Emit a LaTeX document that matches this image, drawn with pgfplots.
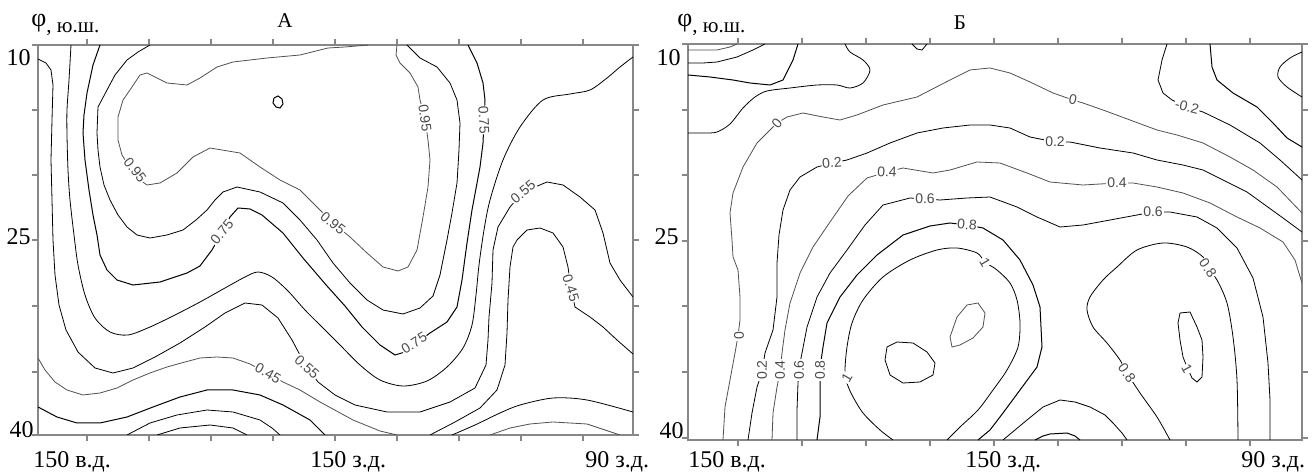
\documentclass[border=0pt]{standalone}
\usepackage{fontspec}
\setmainfont{Liberation Serif}
\newfontfamily\lab{Liberation Sans}
\usepackage{pgfplots}
\pgfplotsset{compat=1.18}
\definecolor{cl}{RGB}{80,80,80}
\definecolor{ax}{RGB}{135,135,135}
\definecolor{lb}{RGB}{75,75,75}
\pgfplotsset{
  panel/.style={scale only axis, y dir=reverse,
    axis line style={ax, line width=1pt},
    tick style={ax, line width=0.8pt}, tick align=outside, major tick length=3pt,
    xticklabels={}, yticklabels={},
    cycle list={{cl, solid, line width=0.5pt, smooth, mark=none}}},
}
\tikzset{clab/.style={font=\lab\fontsize{7}{7}\selectfont, text=lb, fill=white, inner sep=0.4pt}}
\begin{document}
\begin{tikzpicture}
\useasboundingbox (0,0) rectangle (656pt,-237pt);
% ---------------- Panel A ----------------
\begin{axis}[panel, at={(19pt,-22.5pt)}, anchor=north west,
  width=297.5pt, height=195pt, xmin=38, xmax=633, ymin=45, ymax=435,
  xtick={87,149,211,273,335,397,459,521,583},
  ytick={45,110,175,240,306,372,435}]
% 0.95
\addplot coordinates {(368,45) (345,47) (328,48) (300,55) (267,58) (233,62) (217,67) (200,78) (187,85) (167,83) (157,78) (147,73) (140,75) (132,87) (123,100) (118,117) (118,140) (122,155) (130,168) (140,180) (147,185) (160,183) (177,173) (193,157) (210,148) (240,153) (260,167) (280,180) (300,190) (317,207) (333,223) (350,237) (367,253) (383,267) (398,271) (408,267) (417,250) (423,217) (428,187) (430,160) (428,140) (425,118) (420,100) (418,87) (410,73) (400,63) (396,55) (397,45)};
% 0.85
\addplot coordinates {(150,45) (138,52) (127,60) (115,75) (107,90) (98,107) (97,133) (98,150) (100,167) (104,185) (110,200) (118,215) (127,227) (137,235) (150,238) (167,235) (183,230) (196,220) (207,210) (215,200) (223,192) (237,187) (260,192) (283,203) (300,220) (317,240) (333,263) (350,283) (367,300) (383,310) (403,314) (420,308) (433,296) (440,275) (444,255) (447,240) (452,213) (457,183) (459,150) (460,123) (457,100) (450,83) (437,67) (420,58) (407,45)};
% 0.75
\addplot coordinates {(100,45) (93,65) (87,93) (84,115) (83,133) (85,160) (89,190) (93,215) (97,235) (100,255) (107,270) (117,280) (133,285) (160,282) (187,273) (200,266) (212,250) (222,232) (230,217) (238,208) (250,209) (262,215) (283,233) (303,258) (327,286) (345,306) (362,327) (380,345) (395,355) (405,352) (415,344) (430,333) (447,322) (457,307) (462,280) (467,243) (472,210) (480,167) (483,143) (484,120) (485,100) (483,83) (477,63) (468,45)};
% 0.65
\addplot coordinates {(71,45) (69,80) (67,110) (67,135) (68,170) (70,200) (74,235) (78,265) (85,295) (95,318) (110,332) (128,335) (150,327) (175,315) (200,302) (225,288) (245,277) (258,272) (272,277) (288,291) (305,310) (322,327) (340,345) (360,365) (380,380) (403,386) (427,381) (447,367) (463,348) (472,325) (476,295) (479,265) (484,230) (490,200) (503,160) (520,127) (543,100) (570,94) (590,90) (607,78) (620,67) (633,57)};
% 0.55
\addplot coordinates {(38,59) (46,63) (51,70) (53,85) (52,120) (51,160) (52,200) (53,240) (55,275) (59,305) (66,330) (78,352) (95,368) (113,373) (133,368) (155,357) (180,343) (205,327) (225,313) (245,303) (262,305) (278,318) (292,340) (300,355) (307,367) (318,382) (335,395) (355,405) (387,412) (420,412) (450,402) (475,388) (486,365) (488,340) (489,317) (492,283) (493,250) (498,227) (510,207) (523,192) (547,182) (563,185) (580,197) (595,210) (603,233) (610,263) (620,280) (633,297)};
% 0.45 left
\addplot coordinates {(38,358) (45,370) (55,382) (67,390) (83,395) (100,393) (117,388) (133,380) (150,373) (167,367) (185,362) (200,358) (217,357) (233,358) (250,364) (267,373) (283,382) (300,390) (320,402) (353,420) (380,431) (397,435)};
% 0.45 right hump
\addplot coordinates {(430,435) (455,422) (480,408) (497,390) (505,365) (507,333) (508,300) (510,267) (513,247) (517,240) (527,230) (540,228) (553,233) (563,247) (568,267) (571,288) (575,307) (590,317) (603,327) (617,340) (633,354)};
% 0.35
\addplot coordinates {(38,407) (57,417) (77,423) (100,423) (127,417) (153,407) (180,397) (207,390) (233,390) (260,395) (283,405) (310,420) (325,435)};
\addplot coordinates {(452,435) (475,425) (500,413) (520,405) (553,398) (587,400) (633,412)};
% 0.25
\addplot coordinates {(127,435) (150,423) (177,415) (207,410) (233,412) (260,420) (272,428) (280,435)};
\addplot coordinates {(490,435) (510,428) (530,424) (553,422) (587,424) (620,435)};
% 0.15
\addplot coordinates {(157,435) (180,428) (210,425) (233,428) (247,435)};
% tiny loop
\addplot coordinates {(274,98) (278,96) (282,99) (283,104) (280,108) (276,107) (273,103) (274,98)};
% labels
\node[clab, rotate=-52] at (axis cs:135,170) {0.95};
\node[clab, rotate=-39] at (axis cs:333,223) {0.95};
\node[clab, rotate=-82] at (axis cs:425,118) {0.95};
\node[clab, rotate=-87] at (axis cs:484,120) {0.75};
\node[clab, rotate=50] at (axis cs:222,232) {0.75};
\node[clab, rotate=32] at (axis cs:414,343) {0.75};
\node[clab, rotate=40] at (axis cs:523,192) {0.55};
\node[clab, rotate=-42] at (axis cs:307,367) {0.55};
\node[clab, rotate=-30] at (axis cs:268,373) {0.45};
\node[clab, rotate=-72] at (axis cs:571,288) {0.45};
\end{axis}
% ---------------- Panel B ----------------
\begin{axis}[panel, at={(344pt,-22pt)}, anchor=north west,
  width=307pt, height=198pt, xmin=688, xmax=1302, ymin=44, ymax=440,
  xtick={738,802,866,930,994,1058,1122,1186,1250},
  ytick={44,110,175,241,306,372,438}]
\addplot coordinates {(688,50) (705,50) (717,50) (730,47) (737,44)};
\addplot coordinates {(688,63) (703,63) (717,62) (737,57) (753,50) (765,44)};
\addplot coordinates {(688,75) (710,77) (733,80) (750,83) (770,85) (783,80) (793,60) (798,44)};
\addplot coordinates {(688,133) (705,133) (717,132) (730,124) (743,108) (755,97) (767,91) (790,88) (817,85) (837,85) (850,88) (863,83) (870,70) (863,60) (850,52) (845,44)};
\addplot coordinates {(912,44) (917,49) (922,50) (927,44)};
% 0
\addplot coordinates {(723,440) (725,407) (730,380) (735,353) (738,336) (740,320) (740,297) (738,270) (733,257) (732,240) (730,213) (733,193) (743,167) (757,143) (770,130) (777,123) (787,117) (803,113) (823,117) (840,120) (857,115) (883,105) (917,97) (950,80) (970,70) (990,68) (1010,73) (1030,82) (1053,93) (1073,100) (1083,103) (1103,110) (1130,120) (1157,130) (1177,135) (1203,143) (1230,157) (1253,170) (1277,187) (1302,213)};
% -0.2
\addplot coordinates {(1167,44) (1162,60) (1158,80) (1163,93) (1172,100) (1187,107) (1203,112) (1230,125) (1260,143) (1280,160) (1302,180)};
\addplot coordinates {(1210,44) (1212,67) (1217,80) (1233,93) (1257,107) (1273,123) (1287,138) (1302,147)};
\addplot coordinates {(1302,52) (1290,58) (1280,67) (1278,77) (1287,87) (1302,97)};
% 0.2
\addplot coordinates {(748,440) (752,413) (757,387) (762,372) (765,353) (773,330) (777,297) (777,263) (779,235) (783,210) (790,190) (800,177) (817,167) (832,163) (847,160) (867,153) (890,143) (917,133) (943,128) (970,125) (990,125) (1010,128) (1030,137) (1055,142) (1070,142) (1100,148) (1133,153) (1157,160) (1183,165) (1203,170) (1223,180) (1247,192) (1265,205) (1283,218) (1302,232)};
% 0.4
\addplot coordinates {(772,440) (773,413) (777,387) (780,372) (782,353) (785,330) (790,303) (800,273) (813,247) (830,222) (848,196) (867,178) (887,172) (903,168) (933,173) (950,170) (977,162) (1000,163) (1027,173) (1050,182) (1083,185) (1117,183) (1133,183) (1157,187) (1183,193) (1210,203) (1237,217) (1260,228) (1283,242) (1295,260) (1302,283)};
% 0.6
\addplot coordinates {(797,440) (797,410) (798,383) (799,368) (802,353) (807,327) (817,297) (830,273) (847,250) (865,225) (883,205) (910,198) (925,199) (940,200) (967,198) (990,197) (1017,207) (1037,217) (1060,227) (1083,225) (1110,220) (1137,215) (1153,212) (1170,212) (1197,217) (1217,228) (1237,248) (1253,278) (1263,317) (1268,363) (1270,400) (1270,440)};
% 0.8
\addplot coordinates {(817,440) (820,417) (820,390) (820,368) (823,347) (827,323) (840,297) (857,275) (877,255) (903,235) (930,226) (950,223) (967,225) (983,228) (1003,240) (1020,260) (1033,285) (1040,307) (1042,347) (1037,367) (1020,390) (1003,413) (990,430) (978,440)};
% 1
\addplot coordinates {(893,440) (880,430) (863,413) (852,395) (847,383) (845,370) (847,347) (852,323) (863,300) (883,277) (910,260) (937,250) (957,248) (977,253) (985,262) (997,270) (1010,283) (1017,300) (1020,323) (1018,347) (1007,370) (993,390) (978,410) (960,427) (947,440)};
\addplot coordinates {(887,347) (897,342) (913,343) (927,352) (935,363) (933,375) (920,382) (903,383) (890,375) (885,360) (887,347)};
\addplot coordinates {(950,337) (957,317) (967,305) (978,303) (985,313) (983,327) (973,338) (960,345) (952,347) (950,337)};
% bottom domes
\addplot coordinates {(1003,440) (1015,430) (1027,420) (1043,407) (1060,400) (1075,402) (1090,407) (1105,415) (1113,423) (1122,433) (1127,440)};
\addplot coordinates {(1035,440) (1043,436) (1050,434) (1067,433) (1075,436) (1080,440)};
% right arch 0.8
\addplot coordinates {(1170,440) (1157,417) (1140,393) (1127,373) (1120,360) (1107,343) (1093,327) (1087,310) (1090,297) (1103,280) (1117,267) (1137,250) (1163,243) (1187,247) (1203,257) (1208,268) (1217,280) (1227,303) (1233,337) (1237,380) (1238,440)};
\addplot coordinates {(1180,313) (1190,312) (1197,327) (1202,340) (1203,357) (1202,377) (1197,382) (1192,378) (1187,367) (1183,357) (1180,340) (1178,323) (1180,313)};
% labels
\node[clab, rotate=50] at (axis cs:777,123) {0};
\node[clab, rotate=5] at (axis cs:832,163) {0.2};
\node[clab, rotate=-3] at (axis cs:887,172) {0.4};
\node[clab] at (axis cs:925,199) {0.6};
\node[clab, rotate=-5] at (axis cs:967,225) {0.8};
\node[clab, rotate=-60] at (axis cs:985,262) {1};
\node[clab, rotate=-12] at (axis cs:1073,100) {0};
\node[clab, rotate=-15] at (axis cs:1187,107) {-0.2};
\node[clab] at (axis cs:1055,142) {0.2};
\node[clab] at (axis cs:1117,183) {0.4};
\node[clab] at (axis cs:1153,212) {0.6};
\node[clab, rotate=90] at (axis cs:739,336) {0};
\node[clab, rotate=90] at (axis cs:762,370) {0.2};
\node[clab, rotate=90] at (axis cs:780,370) {0.4};
\node[clab, rotate=90] at (axis cs:799,370) {0.6};
\node[clab, rotate=90] at (axis cs:820,370) {0.8};
\node[clab, rotate=60] at (axis cs:847,378) {1};
\node[clab, rotate=-55] at (axis cs:1127,373) {0.8};
\node[clab, rotate=-55] at (axis cs:1208,268) {0.8};
\node[clab, rotate=-62] at (axis cs:1187,369) {1};
\end{axis}
% ---------------- outer texts ----------------
\begin{scope}[x=0.5pt, y=-0.5pt, every node/.style={inner sep=0pt, font=\fontsize{12}{12}\selectfont}]
\node[anchor=base west] at (33,468) {150 в.д.};
\node[anchor=base west] at (310,468) {150 з.д.};
\node[anchor=base west] at (585,468) {90 з.д.};
\node[anchor=base west] at (688,468) {150 в.д.};
\node[anchor=base west] at (965,468) {150 з.д.};
\node[anchor=base west] at (1241,468) {90 з.д.};
\node[anchor=east] at (31,58) {10};
\node[anchor=east] at (31,237) {25};
\node[anchor=east] at (34,430) {40};
\node[anchor=east] at (681,58) {10};
\node[anchor=east] at (679,237) {25};
\node[anchor=east] at (684,431) {40};
\node[anchor=base west, font=\fontsize{13}{13}\selectfont] at (31,27) {φ};
\node[anchor=base west, font=\fontsize{10.5}{10.5}\selectfont] at (46,33) {, ю.ш.};
\node[anchor=base west, font=\fontsize{13}{13}\selectfont] at (677,27) {φ};
\node[anchor=base west, font=\fontsize{10.5}{10.5}\selectfont] at (692,33) {, ю.ш.};
\node[anchor=base, font=\fontsize{10.5}{10.5}\selectfont] at (285,28) {А};
\node[anchor=base, font=\fontsize{10.5}{10.5}\selectfont] at (960,30) {Б};
\end{scope}
\end{tikzpicture}
\end{document}
